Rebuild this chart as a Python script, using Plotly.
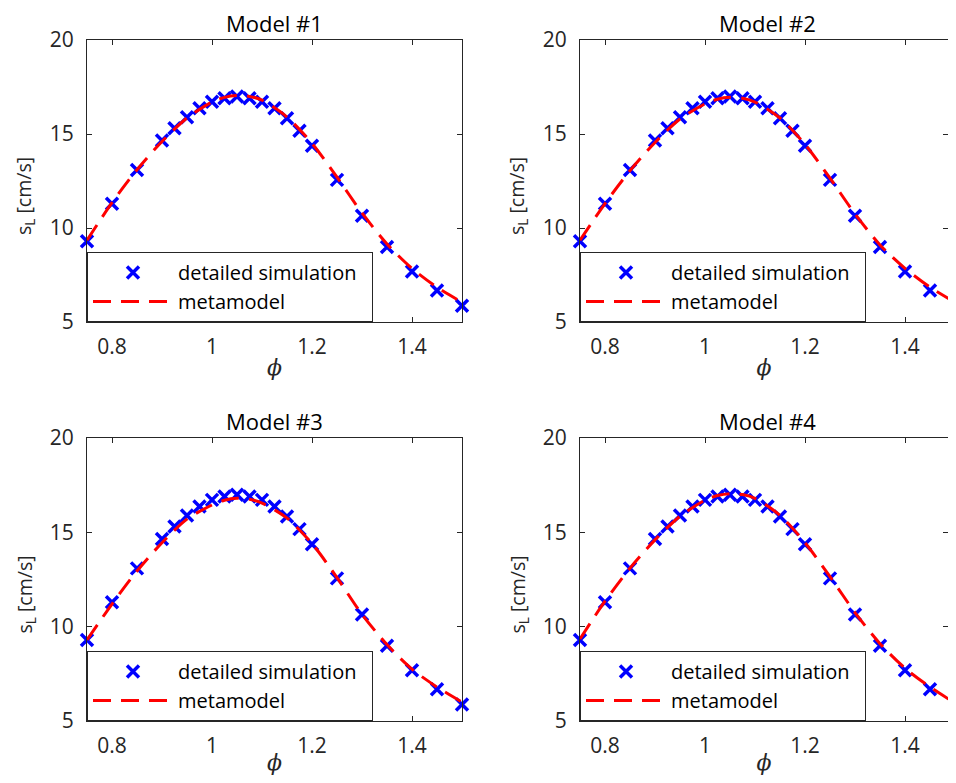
import plotly.graph_objects as go

# ---------------- data ----------------
phi = [0.75, 0.8, 0.85, 0.9, 0.925, 0.95, 0.975, 1.0, 1.025, 1.05, 1.075,
       1.1, 1.125, 1.15, 1.175, 1.2, 1.25, 1.3, 1.35, 1.4, 1.45, 1.5]
sL_sim = [9.29, 11.29, 13.09, 14.65, 15.31, 15.89, 16.37, 16.72, 16.90, 16.99, 16.90,
          16.72, 16.37, 15.84, 15.17, 14.37, 12.56, 10.65, 8.99, 7.69, 6.68, 5.87]

phi_meta = [0.75, 0.8, 0.85, 0.9, 0.95, 1.0, 1.025, 1.05, 1.075, 1.1, 1.15,
            1.2, 1.25, 1.3, 1.35, 1.4, 1.45, 1.5]
meta_1 = [9.35, 11.35, 13.10, 14.60, 15.85, 16.70, 16.95, 17.05, 17.00, 16.80, 15.90,
          14.50, 12.70, 10.80, 9.15, 7.85, 6.85, 6.05]
meta_2 = [9.35, 11.30, 13.05, 14.55, 15.80, 16.60, 16.85, 16.95, 16.90, 16.70, 15.85,
          14.45, 12.65, 10.75, 9.10, 7.85, 6.85, 6.05]
meta_3 = [9.30, 11.20, 12.95, 14.45, 15.70, 16.45, 16.70, 16.80, 16.75, 16.55, 15.75,
          14.40, 12.60, 10.65, 9.05, 7.75, 6.80, 6.00]
meta_4 = [9.35, 11.35, 13.10, 14.60, 15.85, 16.70, 16.95, 17.05, 17.00, 16.80, 15.90,
          14.45, 12.65, 10.75, 9.10, 7.80, 6.80, 5.95]
metas = [meta_1, meta_2, meta_3, meta_4]

titles = ["Model #1", "Model #2", "Model #3", "Model #4"]
x_tickvals = [0.8, 1.0, 1.2, 1.4]
x_ticktext = ["0.8", "1", "1.2", "1.4"]
y_tickvals = [5, 10, 15, 20]
y_ticktext = ["5", "10", "15", "20"]
legend_names = ["detailed simulation", "metamodel"]
x_label = "<i>ϕ</i>"
y_label = "s<sub>L</sub> [cm/s]"
x_range = [0.75, 1.5]
y_range = [5, 20]

# ---------------- layout geometry ----------------
# page has an 8px body margin on every side; figure px = page px - 8
OFF = 8
W, H = 956 - 2 * OFF, 783 - 2 * OFF
FONT = "Open Sans"
AX = "#262626"
AX_W = 375  # axes width in px
col_px = [87 - OFF, 580 - OFF]
row_px = [(40 - OFF, 322 - OFF), (438 - OFF, 721 - OFF)]
YLAB_DX = 62  # distance of the y label centre left of the axis
PAD = "\u00a0\u00a0"  # invisible right padding inside the legend box

fig = go.Figure()
annotations = []
layout = {}
for i in range(4):
    r, c = divmod(i, 2)
    x0 = col_px[c]
    x1 = x0 + AX_W
    rng = list(x_range)
    if x1 > W:  # right column runs past the page edge, as in the reference
        rng[1] = x_range[0] + (x_range[1] - x_range[0]) * (W - x0) / AX_W
        x1 = W
    y0, y1 = row_px[r]
    xd = [x0 / W, x1 / W]
    yd = [1 - y1 / H, 1 - y0 / H]
    sfx = "" if i == 0 else str(i + 1)
    leg = "legend" if i == 0 else f"legend{i + 1}"
    fig.add_trace(go.Scatter(
        x=phi, y=sL_sim, mode="markers", name=legend_names[0] + PAD,
        marker=dict(symbol="x-thin", size=12, color="blue",
                    line=dict(color="blue", width=3.5)),
        cliponaxis=False, xaxis=f"x{sfx}", yaxis=f"y{sfx}", legend=leg))
    fig.add_trace(go.Scatter(
        x=phi_meta, y=metas[i], mode="lines", name=legend_names[1],
        line=dict(color="red", width=3, dash="18px,10px", shape="spline", smoothing=0.8),
        xaxis=f"x{sfx}", yaxis=f"y{sfx}", legend=leg))
    common = dict(showline=True, linecolor=AX, linewidth=1, mirror="ticks",
                  ticks="inside", ticklen=5, tickcolor=AX, tickwidth=1,
                  showgrid=False, zeroline=False, automargin=False,
                  tickfont=dict(family=FONT, size=21, color=AX))
    layout[f"xaxis{sfx}"] = dict(
        domain=xd, range=rng, tickvals=x_tickvals, ticktext=x_ticktext,
        anchor=f"y{sfx}", ticklabelstandoff=6,
        title=dict(text=x_label, font=dict(family="DejaVu Serif", size=22, color=AX),
                   standoff=0), **common)
    layout[f"yaxis{sfx}"] = dict(
        domain=yd, range=y_range, tickvals=y_tickvals, ticktext=y_ticktext,
        anchor=f"x{sfx}", ticklabelstandoff=8, **common)
    layout[leg] = dict(
        x=xd[0], y=yd[0], xanchor="left", yanchor="bottom",
        bgcolor="white", bordercolor=AX, borderwidth=1,
        font=dict(family=FONT, size=20, color="black"),
        itemwidth=80, tracegroupgap=0)
    annotations.append(dict(
        text=titles[i], x=(x0 + AX_W / 2) / W, y=yd[1], xref="paper", yref="paper",
        xanchor="center", yanchor="bottom", yshift=0, showarrow=False,
        font=dict(family=FONT, size=22, color="black")))
    annotations.append(dict(
        text=y_label, textangle=-90, x=(x0 - YLAB_DX) / W, y=(yd[0] + yd[1]) / 2,
        xref="paper", yref="paper", xanchor="center", yanchor="middle", yshift=-15,
        showarrow=False, font=dict(family=FONT, size=19.5, color=AX)))

fig.update_layout(
    width=W, height=H, margin=dict(l=0, r=0, t=0, b=0),
    paper_bgcolor="white", plot_bgcolor="white",
    annotations=annotations, showlegend=True, **layout)

fig.write_html("out.html")
